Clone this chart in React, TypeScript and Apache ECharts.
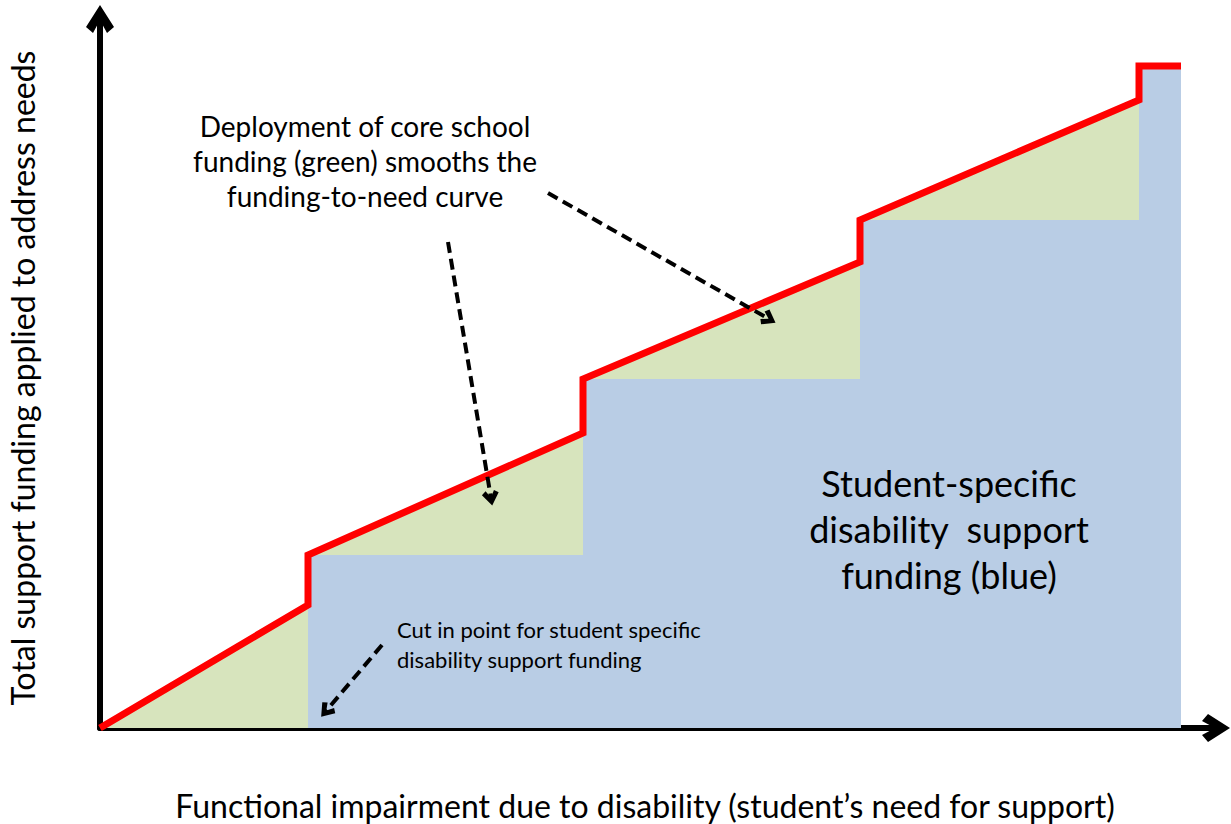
import React, { useEffect, useRef } from "react";
import * as echarts from "echarts";

// Red funding-to-need curve (x: need, y: funding)
const redX = [0, 2.08, 2.08, 4.83, 4.83, 7.6, 7.6, 10.39, 10.39, 10.81];
const redY = [0, 1.23, 1.73, 2.95, 3.49, 4.66, 5.08, 6.28, 6.62, 6.62];
// Blue student-specific funding steps
const blueX = [2.08, 4.83, 4.83, 7.6, 7.6, 10.39, 10.39, 10.81];
const blueY = [1.73, 1.73, 3.49, 3.49, 5.08, 5.08, 6.62, 6.62];
// Dashed annotation arrows: [x1, y1, x2, y2]
const arrows = [
  [3.48, 4.86, 3.91, 2.3],
  [4.48, 5.35, 6.69, 4.09],
  [2.82, 0.83, 2.26, 0.17],
];
const xMax = 11.16;
const yMax = 7.09;

const chevron = "path://M0,22 L14,0 L28,22 L21,28 L14,15 L7,28 Z";
const FONT = "Lato";

export default function App() {
  const ref = useRef<HTMLDivElement>(null);
  useEffect(() => {
    const chart = echarts.init(ref.current!, undefined, { renderer: "svg" });
    const red = redX.map((x, i) => [x, redY[i]]);
    const blue = blueX.map((x, i) => [x, blueY[i]]);
    const axisCommon = {
      type: "value" as const,
      min: 0,
      axisTick: { show: false },
      axisLabel: { show: false },
      splitLine: { show: false },
      axisLine: {
        show: true,
        onZero: false,
        symbol: ["none", chevron],
        symbolSize: [28, 28],
        lineStyle: { color: "#000", width: 6 },
      },
    };
    chart.setOption({
      animation: false,
      grid: { left: 100, right: 15, top: 19, bottom: 96 },
      xAxis: { ...axisCommon, max: xMax },
      yAxis: { ...axisCommon, max: yMax },
      series: [
        {
          type: "line",
          data: red,
          symbol: "none",
          lineStyle: { width: 0 },
          areaStyle: { color: "#d7e4bd", opacity: 1 },
          z: 1,
        },
        {
          type: "line",
          data: blue,
          symbol: "none",
          lineStyle: { width: 0 },
          areaStyle: { color: "#b9cde5", opacity: 1 },
          z: 2,
        },
        {
          type: "line",
          data: red,
          symbol: "none",
          lineStyle: { width: 7, color: "#ff0000", join: "miter" },
          z: 3,
        },
        {
          type: "line",
          data: [],
          z: 4,
          markLine: {
            silent: true,
            symbol: ["none", chevron],
            symbolSize: [17, 15],
            label: { show: false },
            lineStyle: { color: "#000", width: 4, type: [11, 6] },
            emphasis: { disabled: true },
            data: arrows.map((a) => [
              { coord: [a[0], a[1]] },
              { coord: [a[2], a[3]] },
            ]),
          },
        },
      ],
      graphic: [
        {
          type: "text",
          z: 100,
          x: 365,
          y: 108,
          style: {
            text: "Deployment of core school\nfunding (green) smooths the\nfunding-to-need curve",
            font: `28px ${FONT}`,
            fill: "#000",
            align: "center",
            verticalAlign: "top",
            lineHeight: 35,
          },
        },
        {
          type: "text",
          z: 100,
          x: 949,
          y: 460,
          style: {
            text: "Student-specific\ndisability  support\nfunding (blue)",
            font: `36px ${FONT}`,
            fill: "#000",
            align: "center",
            verticalAlign: "top",
            lineHeight: 46,
          },
        },
        {
          type: "text",
          z: 100,
          x: 397,
          y: 614,
          style: {
            text: "Cut in point for student specific\ndisability support funding",
            font: `22px ${FONT}`,
            fill: "#000",
            align: "left",
            verticalAlign: "top",
            lineHeight: 30,
          },
        },
        {
          type: "text",
          z: 100,
          x: 22,
          y: 378,
          rotation: Math.PI / 2,
          style: {
            text: "Total support funding applied to address needs",
            font: `32px ${FONT}`,
            fill: "#000",
            align: "center",
            verticalAlign: "middle",
          },
        },
        {
          type: "text",
          z: 100,
          x: 645,
          y: 805,
          style: {
            text: "Functional impairment due to disability (student\u2019s need for support)",
            font: `32px ${FONT}`,
            fill: "#000",
            align: "center",
            verticalAlign: "middle",
          },
        },
      ],
    });
    return () => chart.dispose();
  }, []);
  return (
    <div
      ref={ref}
      style={{ position: "absolute", left: 0, top: 0, width: 1231, height: 824 }}
    />
  );
}
